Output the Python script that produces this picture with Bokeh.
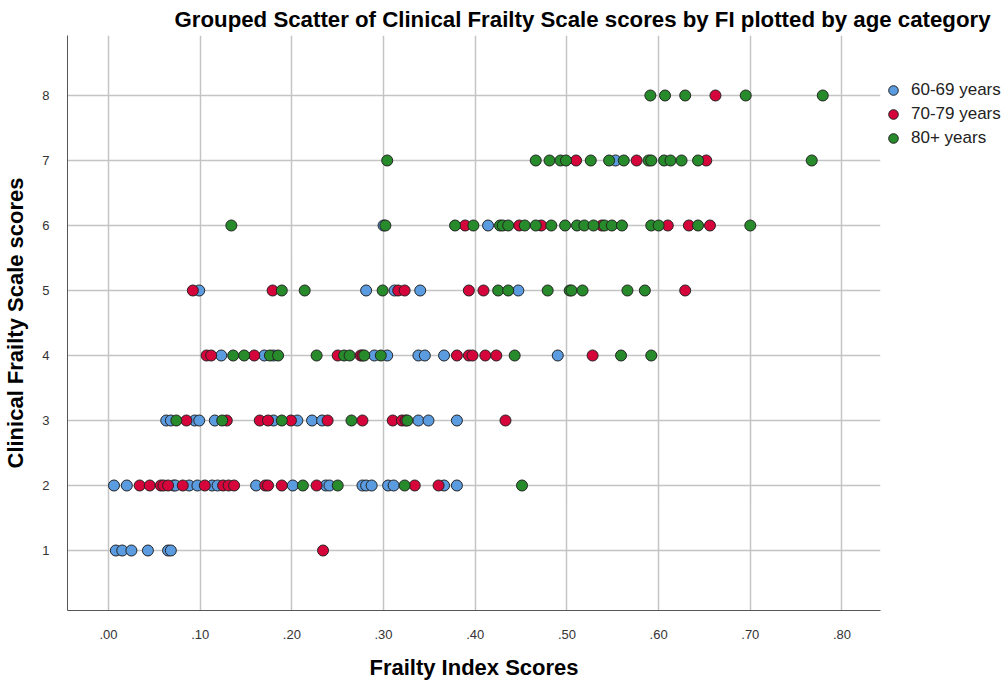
from bokeh.plotting import figure
from bokeh.models import Range1d, FixedTicker, CustomJSTickFormatter, Legend, LegendItem, ColumnDataSource
from bokeh.embed import file_html
from bokeh.resources import INLINE

TITLE = "Grouped Scatter of Clinical Frailty Scale scores by FI plotted by age category"
X_LABEL = "Frailty Index Scores"
Y_LABEL = "Clinical Frailty Scale scores"

groups = ["60-69 years", "70-79 years", "80+ years"]
colors = ["#5b9be0", "#d5053c", "#278a2b"]

x_ticks = [0.0, 0.1, 0.2, 0.3, 0.4, 0.5, 0.6, 0.7, 0.8]
y_ticks = [1, 2, 3, 4, 5, 6, 7, 8]

# Frailty Index values for each Clinical Frailty Scale score, per age group
fi_60_69 = {
    1: [0.008, 0.015, 0.025, 0.043, 0.065, 0.068],
    2: [0.006, 0.020, 0.071, 0.073, 0.088, 0.097, 0.113, 0.119, 0.161, 0.201,
        0.237, 0.241, 0.277, 0.281, 0.287, 0.305, 0.311, 0.366, 0.380],
    3: [0.063, 0.068, 0.094, 0.099, 0.116, 0.180, 0.206, 0.222, 0.233, 0.338, 0.349, 0.380],
    4: [0.123, 0.170, 0.180, 0.290, 0.304, 0.338, 0.345, 0.366, 0.490],
    5: [0.099, 0.281, 0.312, 0.340, 0.447],
    6: [0.300, 0.414],
    7: [0.553],
    8: [],
}
fi_70_79 = {
    1: [0.234],
    2: [0.034, 0.045, 0.057, 0.060, 0.065, 0.081, 0.105, 0.125, 0.131, 0.137,
        0.171, 0.174, 0.189, 0.227, 0.334, 0.360],
    3: [0.085, 0.129, 0.165, 0.174, 0.199, 0.239, 0.277, 0.310, 0.320, 0.324, 0.433],
    4: [0.107, 0.112, 0.159, 0.250, 0.275, 0.277, 0.380, 0.393, 0.397, 0.411, 0.423, 0.528],
    5: [0.092, 0.179, 0.316, 0.323, 0.393, 0.409, 0.629],
    6: [0.389, 0.448, 0.472, 0.538, 0.610, 0.633, 0.656],
    7: [0.510, 0.576, 0.652],
    8: [0.662],
}
fi_80_plus = {
    1: [],
    2: [0.212, 0.250, 0.323, 0.451],
    3: [0.074, 0.124, 0.189, 0.265, 0.326],
    4: [0.136, 0.148, 0.176, 0.185, 0.227, 0.257, 0.263, 0.279, 0.297, 0.443, 0.559, 0.592],
    5: [0.189, 0.214, 0.299, 0.425, 0.436, 0.479, 0.503, 0.505, 0.517, 0.566, 0.585],
    6: [0.134, 0.302, 0.378, 0.398, 0.427, 0.430, 0.436, 0.454, 0.466, 0.483, 0.498,
        0.511, 0.519, 0.529, 0.541, 0.549, 0.560, 0.592, 0.600, 0.643, 0.700],
    7: [0.304, 0.466, 0.481, 0.493, 0.499, 0.526, 0.546, 0.562, 0.589, 0.592,
        0.606, 0.613, 0.625, 0.643, 0.767],
    8: [0.591, 0.607, 0.629, 0.695, 0.779],
}
group_data = [fi_60_69, fi_70_79, fi_80_plus]

FONT = "Liberation Sans"

p = figure(
    frame_width=813, frame_height=575,
    min_border_left=59, min_border_right=120, min_border_top=31, min_border_bottom=60,
    x_range=Range1d(-0.0447, 0.842), y_range=Range1d(0.077, 8.923),
    output_backend="svg", toolbar_location=None,
)
p.outline_line_color = None
p.background_fill_color = "white"
p.border_fill_color = "white"

p.title.text = TITLE
p.title.text_font = FONT
p.title.text_font_size = "22.25px"
p.title.text_font_style = "bold"
p.title.text_color = "#000000"
p.title.align = "left"
p.title.offset = 107
p.title.standoff = 8
p.title.text_line_height = 1.0

for ax in (p.xaxis[0], p.yaxis[0]):
    ax.axis_line_color = "#555555"
    ax.axis_line_width = 1
    ax.major_tick_line_color = None
    ax.minor_tick_line_color = None
    ax.major_tick_out = 0
    ax.major_tick_in = 0
    ax.major_label_text_font = FONT
    ax.major_label_text_font_size = "13px"
    ax.major_label_text_color = "#333333"
    ax.major_label_standoff = 18
    ax.axis_label_text_font = FONT
    ax.axis_label_text_font_size = "22px"
    ax.axis_label_text_font_style = "bold"
    ax.axis_label_text_color = "#000000"
    ax.axis_label_standoff = 11
    ax.axis_label_text_line_height = 1.0

p.xaxis.axis_label_standoff = 13
p.xaxis.major_label_standoff = 19
p.xaxis.axis_label = X_LABEL
p.yaxis.axis_label = Y_LABEL
p.xaxis.ticker = FixedTicker(ticks=x_ticks)
p.yaxis.ticker = FixedTicker(ticks=y_ticks)
p.xaxis.formatter = CustomJSTickFormatter(code="return tick.toFixed(2).replace(/^0/, '');")

p.xgrid.ticker = FixedTicker(ticks=x_ticks)
p.ygrid.ticker = FixedTicker(ticks=y_ticks)
for g in (p.xgrid[0], p.ygrid[0]):
    g.grid_line_color = "#c4c4c4"
    g.grid_line_width = 1.5

items = []
for name, color, data in zip(groups, colors, group_data):
    xs, ys = [], []
    for score, vals in data.items():
        xs.extend(vals)
        ys.extend([score] * len(vals))
    src = ColumnDataSource(dict(fi=xs, cfs=ys))
    r = p.scatter("fi", "cfs", source=src, size=11, fill_color=color,
                  line_color="#222222", line_width=1)
    items.append(LegendItem(label=name, renderers=[r]))

legend = Legend(items=items, location=(1, 460))
legend.border_line_color = None
legend.background_fill_alpha = 0
legend.margin = 0
legend.padding = 0
legend.spacing = 0
legend.glyph_width = 24
legend.glyph_height = 24
legend.label_height = 20
legend.label_standoff = 6
legend.label_text_font = FONT
legend.label_text_font_size = "17px"
legend.label_text_color = "#222222"
p.add_layout(legend, "right")

open("out.html", "w").write(file_html(p, INLINE))
